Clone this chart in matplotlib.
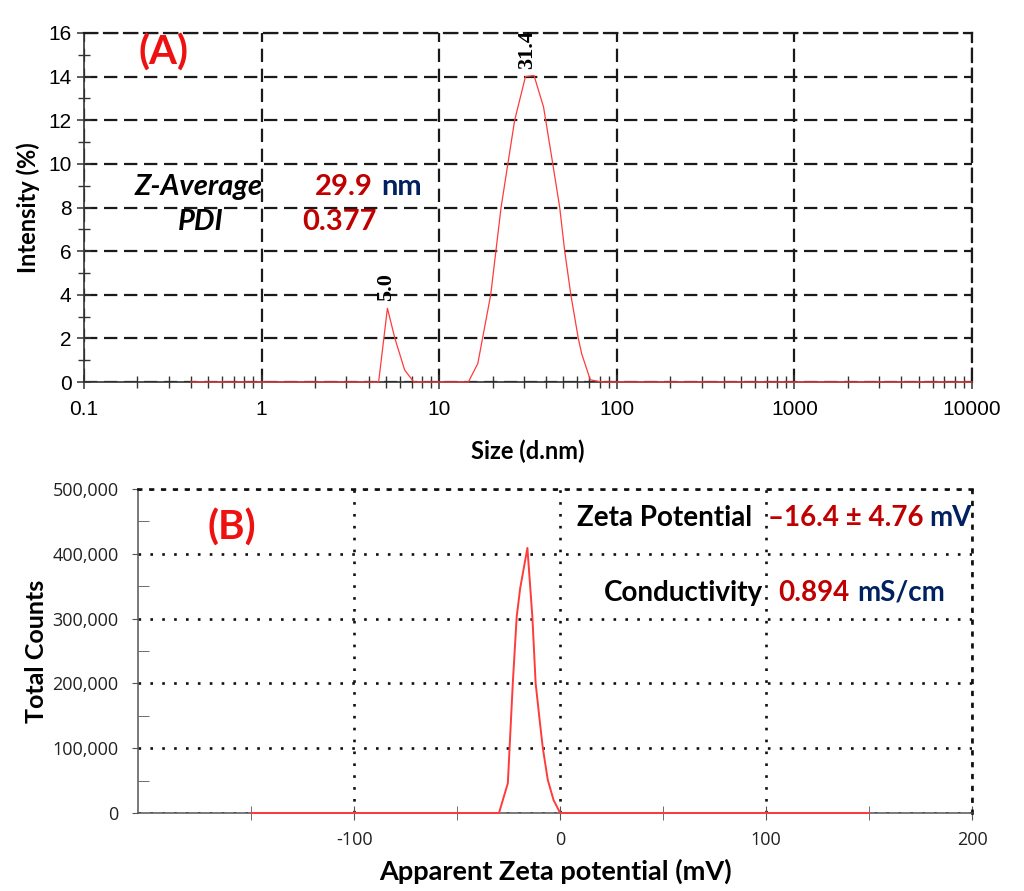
import matplotlib
matplotlib.use("Agg")
import matplotlib.pyplot as plt
from matplotlib.ticker import FixedLocator, NullFormatter, FuncFormatter

plt.rcParams['axes.unicode_minus'] = False

# ----------------------------------------------------
# Data
# ----------------------------------------------------

# (A) size distribution by intensity
size_nm = [0.4, 4.56, 5.11, 5.63, 6.39, 7.20, 14.6, 16.5, 19.5, 22.3, 26.6,
           30.6, 34.2, 38.7, 43.6, 47.7, 50.9, 55.1, 60.7, 63.4, 70.9, 82.6, 10000]
intensity = [0, 0, 3.38, 2.0, 0.55, 0, 0, 0.85, 4.0, 8.0, 12.0,
             14.0, 14.05, 12.6, 10.0, 8.0, 6.0, 4.0, 2.0, 1.3, 0.1, 0, 0]
size_peaks = [5.0, 31.4]
peak_heights = [3.38, 14.05]
size_ticks = [0.1, 1, 10, 100, 1000, 10000]
size_ticklabels = ['0.1', '1', '10', '100', '1000', '10000']
intensity_ticks = [0, 2, 4, 6, 8, 10, 12, 14, 16]

# (B) zeta potential distribution
zeta_mv = [-150, -29.7, -25.4, -23.0, -21.1, -19.4, -15.9, -13.5, -11.9,
           -9.8, -8.4, -6.0, -3.2, 0, 150]
counts = [0, 0, 46000, 200000, 303000, 347000, 409000, 303000, 200000,
          139000, 100000, 51000, 20000, 0, 0]
zeta_ticks = [-100, 0, 100, 200]
count_ticks = [0, 100000, 200000, 300000, 400000, 500000]

# summary values
z_average = '29.9'
pdi = '0.377'
zeta_value = '\u201316.4 \u00b1 4.76'
conductivity = '0.894'

DARKRED = '#c00000'
NAVY = '#002060'
LABELRED = '#ee1111'
LINERED = '#ff3b3b'
SANS = 'Lato'

fig = plt.figure(figsize=(10.24, 8.91), dpi=100)


def unit_after(ax, prev, text, gap, size):
    # put a navy unit right after an existing text, same bottom line
    return ax.annotate(text, xy=(1, 0), xycoords=prev, xytext=(gap, 0),
                       textcoords='offset points', ha='left', va='bottom',
                       fontsize=size, fontweight='bold', fontfamily=SANS,
                       color=NAVY)


# ----------------------------------------------------
# (A) Intensity vs size
# ----------------------------------------------------
axA = fig.add_axes([84 / 1024, 1 - 382 / 891, 888 / 1024, 349 / 891])
axA.plot(size_nm, intensity, color=LINERED, lw=0.9, clip_on=False, zorder=5)
axA.set_xscale('log')
axA.set_xlim(0.1, 10000)
axA.set_ylim(0, 16)
axA.xaxis.set_major_locator(FixedLocator(size_ticks))
axA.set_xticklabels(size_ticklabels)
axA.xaxis.set_minor_locator(FixedLocator(
    [m * 10.0 ** e for e in range(-1, 4) for m in range(2, 10)]))
axA.xaxis.set_minor_formatter(NullFormatter())
axA.yaxis.set_major_locator(FixedLocator(intensity_ticks))
axA.yaxis.set_minor_locator(FixedLocator(list(range(1, 16, 2))))

dashA = (0, (6, 3))
axA.grid(True, which='major', color='#1a1a1a', lw=1.6, linestyle=dashA)
for s in ['top', 'right']:
    axA.spines[s].set_linestyle(dashA)
    axA.spines[s].set_linewidth(1.6)
    axA.spines[s].set_color('#1a1a1a')
for s in ['left', 'bottom']:
    axA.spines[s].set_linewidth(1.2)
    axA.spines[s].set_color('#333333')
axA.tick_params(which='major', direction='inout', length=10, width=1.1,
                color='#333333', labelsize=15, pad=4)
axA.tick_params(which='minor', direction='inout', length=8, width=1.0,
                color='#333333')
axA.tick_params(axis='x', which='major', pad=8)
for lab in axA.get_xticklabels() + axA.get_yticklabels():
    lab.set_fontfamily('Liberation Sans')

axA.set_xlabel('Size (d.nm)', fontsize=17, fontweight='bold',
               fontfamily=SANS, labelpad=15)
axA.set_ylabel('Intensity (%)', fontsize=17, fontweight='bold',
               fontfamily=SANS, labelpad=6)

for xp, yp in zip(size_peaks, peak_heights):
    axA.annotate(f'{xp:.1f}', xy=(xp, yp), xytext=(0, 5),
                 textcoords='offset points', rotation=90, ha='center',
                 va='bottom', fontsize=16, fontweight='bold',
                 fontfamily='Liberation Serif')

fig.text(163 / 1024, 1 - 53 / 891, '(A)', color=LABELRED, fontsize=29,
         fontweight='bold', fontfamily=SANS, ha='center', va='center')

fig.text(263 / 1024, 1 - 187 / 891, 'Z-Average', fontsize=21,
         fontweight='bold', fontstyle='italic', fontfamily=SANS,
         ha='right', va='center')
t = fig.text(315 / 1024, 1 - 187 / 891, z_average, fontsize=21,
             fontweight='bold', fontfamily=SANS, color=DARKRED,
             ha='left', va='center')
unit_after(axA, t, 'nm', 6, 21)
fig.text(224 / 1024, 1 - 222 / 891, 'PDI', fontsize=21, fontweight='bold',
         fontstyle='italic', fontfamily=SANS, ha='right', va='center')
fig.text(302 / 1024, 1 - 222 / 891, pdi, fontsize=21, fontweight='bold',
         fontfamily=SANS, color=DARKRED, ha='left', va='center')

# ----------------------------------------------------
# (B) Total counts vs apparent zeta potential
# ----------------------------------------------------
axB = fig.add_axes([138 / 1024, 1 - 813 / 891, 834 / 1024, 324 / 891])
axB.plot(zeta_mv, counts, color=LINERED, lw=1.4, clip_on=False, zorder=5)
axB.set_xlim(-205, 200)
axB.set_ylim(0, 500000)
axB.xaxis.set_major_locator(FixedLocator(zeta_ticks))
axB.xaxis.set_minor_locator(FixedLocator([-150, -50, 50, 150]))
axB.yaxis.set_major_locator(FixedLocator(count_ticks))
axB.yaxis.set_minor_locator(FixedLocator([50000, 150000, 250000, 350000, 450000]))
axB.yaxis.set_major_formatter(FuncFormatter(lambda v, p: f'{int(v):,}'))

dotB = (0, (1, 3.5))
axB.grid(True, which='major', color='#111111', lw=1.9, linestyle=dotB)
for s in ['top', 'right']:
    axB.spines[s].set_linestyle(dotB)
    axB.spines[s].set_linewidth(1.9)
    axB.spines[s].set_color('#111111')
for s in ['left', 'bottom']:
    axB.spines[s].set_linewidth(1.1)
    axB.spines[s].set_color('#555555')
axB.tick_params(axis='y', which='major', direction='out', length=4,
                color='#555555', labelsize=13, pad=10)
axB.tick_params(axis='y', which='minor', direction='in', length=8,
                color='#555555')
axB.tick_params(axis='x', which='both', direction='inout', length=10,
                color='#555555', labelsize=13, pad=8)
for lab in axB.get_xticklabels() + axB.get_yticklabels():
    lab.set_fontfamily('Open Sans')
    lab.set_color('#222222')

axB.set_xlabel('Apparent Zeta potential (mV)', fontsize=19.5, fontweight='bold',
               fontfamily=SANS, labelpad=7)
axB.set_ylabel('Total Counts', fontsize=18, fontweight='bold',
               fontfamily=SANS, labelpad=3)

fig.text(232 / 1024, 1 - 528 / 891, '(B)', color=LABELRED, fontsize=29,
         fontweight='bold', fontfamily=SANS, ha='center', va='center')

fig.text(752 / 1024, 1 - 518 / 891, 'Zeta Potential', fontsize=20,
         fontweight='bold', fontfamily=SANS, ha='right', va='center')
t = fig.text(768 / 1024, 1 - 518 / 891, zeta_value, fontsize=20,
             fontweight='bold', fontfamily=SANS, color=DARKRED, ha='left',
             va='center')
unit_after(axB, t, 'mV', 4, 20)
fig.text(763 / 1024, 1 - 593 / 891, 'Conductivity', fontsize=20,
         fontweight='bold', fontfamily=SANS, ha='right', va='center')
t = fig.text(778 / 1024, 1 - 593 / 891, conductivity, fontsize=20,
             fontweight='bold', fontfamily=SANS, color=DARKRED, ha='left',
             va='center')
unit_after(axB, t, 'mS/cm', 6, 20)

fig.savefig('out.png', dpi=100)
